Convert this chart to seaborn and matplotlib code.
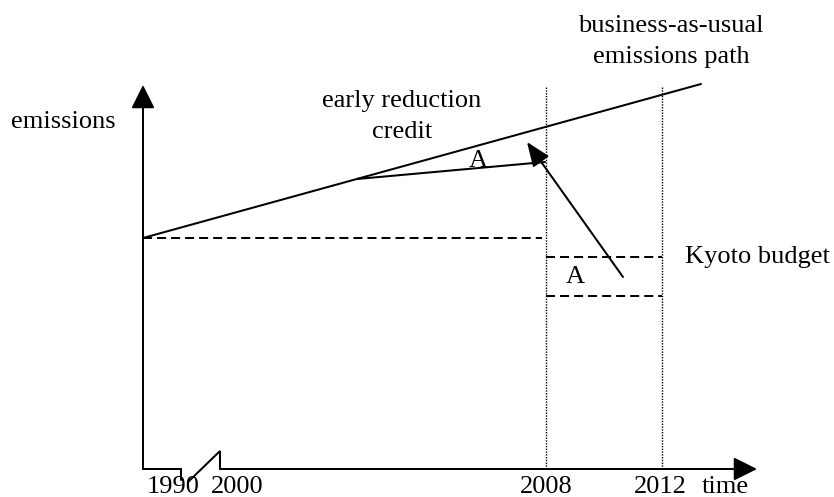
import matplotlib
matplotlib.use("Agg")
import matplotlib.pyplot as plt
import seaborn as sns

# ---------------------------------------------------------------
# schematic values (x = time position, y = emissions level)
# ---------------------------------------------------------------
bau_x = [0, 558]                 # business-as-usual path
bau_y = [231, 385]
early_x = [214, 402]             # early reduction path
early_y = [290, 307]
base_level = 231                 # 1990 emissions level
base_end = 399
kyoto_levels = [212, 173]        # Kyoto budget band
commit_x = [403, 519]            # 2008 and 2012
commit_top = 382
credit_start = (480, 192)
credit_tip = (384, 327)

tick_x = [30, 94, 403, 517, 582]
tick_labels = ["1990", "2000", "2008", "2012", "time"]

# axis break between 1990 and 2000
break_x = [0, 38, 38, None, 45, 77, 77]
break_y = [0, 0, -11, None, -13, 18, 0]

sns.set_theme(style="white")
plt.rcParams["font.family"] = ["Liberation Serif", "DejaVu Serif"]
plt.rcParams["text.color"] = "black"
plt.rcParams["lines.scale_dashes"] = False

fig = plt.figure(figsize=(8.34, 4.97), dpi=100)
ax = fig.add_axes([0, 0, 1, 1])
ax.set_xlim(-143, 691)
ax.set_ylim(-28, 469)
ax.set_axis_off()

lw = 1.45
fs = 19

# axes with arrow heads
ax.plot(break_x, break_y, color="black", lw=lw, solid_joinstyle="miter")
ax.annotate("", xy=(614, 0), xytext=(77, 0),
            arrowprops=dict(arrowstyle="-|>,head_length=1,head_width=0.5",
                            mutation_scale=14.4, color="black", lw=lw,
                            shrinkA=0, shrinkB=0))
ax.annotate("", xy=(0, 384), xytext=(0, 0),
            arrowprops=dict(arrowstyle="-|>,head_length=1,head_width=0.5",
                            mutation_scale=14.4, color="black", lw=lw,
                            shrinkA=0, shrinkB=0))

# emission paths
sns.lineplot(x=bau_x, y=bau_y, ax=ax, color="black", lw=lw)
sns.lineplot(x=early_x, y=early_y, ax=ax, color="black", lw=lw)

# 1990 level and Kyoto budget
dash = (0, (6.5, 3.6))
ax.plot([0, base_end], [base_level, base_level], color="black", lw=lw, ls=dash)
for lvl in kyoto_levels:
    ax.plot(commit_x, [lvl, lvl], color="black", lw=lw, ls=dash)

# commitment period
for cx in commit_x:
    ax.plot([cx, cx], [0, commit_top], color="black", lw=1.0, ls=(0, (1, 1)))

# transfer of early credit
ax.annotate("", xy=credit_tip, xytext=credit_start,
            arrowprops=dict(arrowstyle="-|>,head_length=1,head_width=0.4",
                            mutation_scale=14.9, color="black", lw=lw,
                            shrinkA=0, shrinkB=0))

# labels
for x, lab in zip(tick_x, tick_labels):
    ax.text(x, -24, lab, ha="center", va="baseline", fontsize=fs)

ax.text(-79.5, 341, "emissions", ha="center", va="baseline", fontsize=fs)
ax.text(528, 437, "business-as-usual", ha="center", va="baseline", fontsize=fs)
ax.text(528, 406, "emissions path", ha="center", va="baseline", fontsize=fs)
ax.text(259, 362, "early reduction", ha="center", va="baseline", fontsize=fs)
ax.text(259, 331, "credit", ha="center", va="baseline", fontsize=fs)
ax.text(542, 206, "Kyoto budget", ha="left", va="baseline", fontsize=fs)
ax.text(335, 302, "A", ha="center", va="baseline", fontsize=fs)
ax.text(432, 186, "A", ha="center", va="baseline", fontsize=fs)

fig.savefig("out.png", dpi=100)
